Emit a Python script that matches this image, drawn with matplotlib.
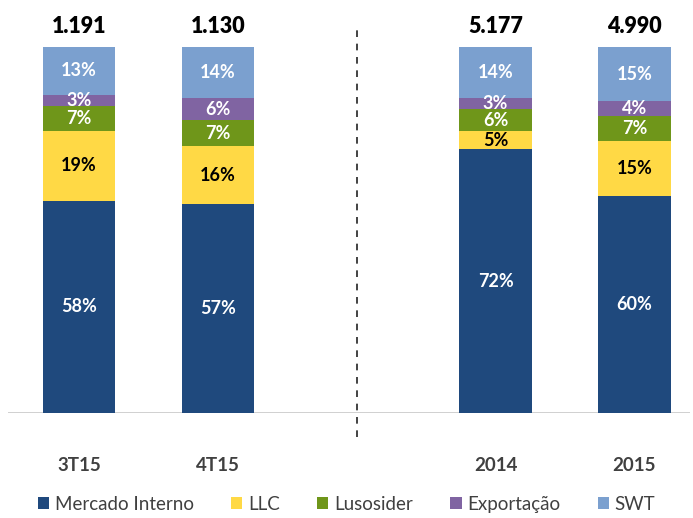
import matplotlib
matplotlib.use('Agg')
import matplotlib.pyplot as plt
import numpy as np

# dados
categorias = ['3T15', '4T15', '2014', '2015']
totais = ['1.191', '1.130', '5.177', '4.990']
series = ['Mercado Interno', 'LLC', 'Lusosider', 'Exportação', 'SWT']
mercado_interno = [58, 57, 72, 60]
llc = [19, 16, 5, 15]
lusosider = [7, 7, 6, 7]
exportacao = [3, 6, 3, 4]
swt = [13, 14, 14, 15]

cores = ['#1F497D', '#FFD945', '#6F961A', '#8064A2', '#7BA0CF']
cor_texto = ['white', 'black', 'white', 'white', 'white']

plt.rcParams['font.family'] = ['Lato', 'DejaVu Sans']

valores = np.array([mercado_interno, llc, lusosider, exportacao, swt], dtype=float)
alturas = valores / valores.sum(axis=0) * 100  # cada barra ocupa 100%
xpos = np.array([0, 1, 3, 4])

fig = plt.figure(figsize=(6.93, 5.18), dpi=100)
ax = fig.add_axes([8 / 693, 1 - 413 / 518, 682 / 693, 366 / 518])

base = np.zeros(len(categorias))
handles = []
for i, nome in enumerate(series):
    b = ax.bar(xpos, alturas[i], 0.52, bottom=base, color=cores[i], label=nome, zorder=2)
    handles.append(b)
    for j in range(len(categorias)):
        ax.text(xpos[j], base[j] + alturas[i][j] / 2, '%d%%' % valores[i][j],
                ha='center', va='center', fontsize=13, fontweight='bold',
                color=cor_texto[i], zorder=3)
    base += alturas[i]

for j in range(len(categorias)):
    ax.text(xpos[j], 102.8, totais[j], ha='center', va='bottom', fontsize=15.5,
            fontweight='heavy', color='black', clip_on=False)

ax.plot([2, 2], [-6.6, 105], ls=(0, (4, 4)), color='#222222', lw=1.2, clip_on=False)
ax.axhline(0, color='#C8C8C8', lw=1.2, zorder=1)

ax.set_xlim(-0.51, 4.4)
ax.set_ylim(0, 100)
ax.set_xticks(xpos)
ax.set_xticklabels(categorias, fontsize=13.5, fontweight='bold', color='#404040')
ax.tick_params(axis='x', length=0, pad=32)
ax.set_yticks([])
for s in ax.spines.values():
    s.set_visible(False)

fig.legend(handles=handles, labels=series, loc='lower center', ncol=5,
           bbox_to_anchor=(0.5, -0.022), frameon=False, fontsize=13.5,
           handlelength=0.6, handleheight=0.6, handletextpad=0.3,
           columnspacing=2.0, labelcolor='#404040')

fig.savefig('out.png', dpi=100)
